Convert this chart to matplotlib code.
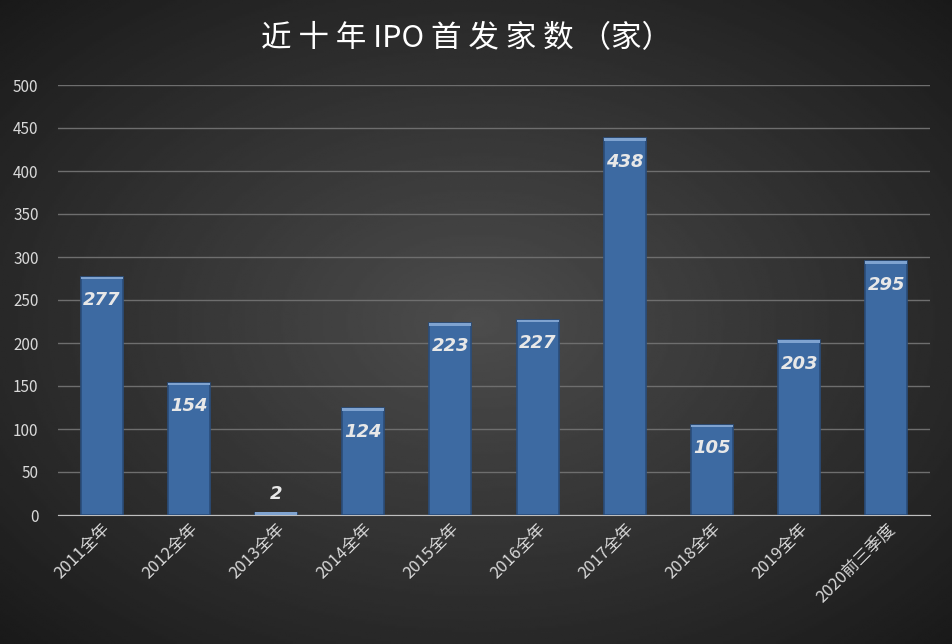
import matplotlib
matplotlib.use("Agg")
import matplotlib.pyplot as plt
import numpy as np

plt.rcParams['font.family'] = ['Noto Sans CJK SC', 'DejaVu Sans']

categories = ["2011全年", "2012全年", "2013全年", "2014全年", "2015全年",
              "2016全年", "2017全年", "2018全年", "2019全年", "2020前三季度"]
counts = [277, 154, 2, 124, 223, 227, 438, 105, 203, 295]

fig = plt.figure(figsize=(9.53, 6.44), dpi=100)

# radial gradient background
bg = fig.add_axes([0, 0, 1, 1], zorder=-10)
yy, xx = np.mgrid[-1:1:300j, -1:1:450j]
r = np.sqrt(xx ** 2 + yy ** 2) / np.sqrt(2)
bg.imshow(0.30 - 0.20 * r, cmap="gray", vmin=0, vmax=1, aspect="auto", extent=[0, 1, 0, 1])
bg.axis("off")

ax = fig.add_axes([58 / 953, 129 / 644, 872 / 953, 430 / 644])
ax.patch.set_alpha(0)
x = np.arange(len(categories))
ax.bar(x, counts, width=0.48, color="#3d6aa2", edgecolor="#2a4d7a", linewidth=1.2, zorder=3)
# light top bevel
ax.bar(x, [3] * len(x), bottom=[max(c - 3, 0) for c in counts], width=0.48,
       color="#7fa3d0", linewidth=0, zorder=4)

for xi, c in zip(x, counts):
    if c < 30:
        ax.text(xi, c + 22, str(c), ha="center", va="center", color="#e8e8e8",
                fontsize=13, fontweight="bold", style="italic", family="DejaVu Sans")
    else:
        ax.text(xi, c - 27, str(c), ha="center", va="center", color="#e8e8e8",
                fontsize=13, fontweight="bold", style="italic", family="DejaVu Sans")

ax.set_xlim(-0.5, len(categories) - 0.5)
ax.set_ylim(0, 500)
ax.set_yticks(range(0, 501, 50))
ax.grid(axis="y", color="#6e6e6e", linewidth=1, zorder=0)
for s in ["top", "right", "left"]:
    ax.spines[s].set_visible(False)
ax.spines["bottom"].set_color("#bfbfbf")
ax.tick_params(axis="y", length=0, colors="#d9d9d9", labelsize=11, pad=14)
ax.tick_params(axis="x", length=0, colors="#d9d9d9", labelsize=12)
ax.set_xticks(x)
ax.set_xticklabels(categories, rotation=45, ha="right", rotation_mode="anchor")

fig.text(0.489, 0.94, "近 十 年 IPO 首 发 家 数 （家）", ha="center", va="center",
         color="white", fontsize=22, fontweight="medium")

fig.savefig("out.png", dpi=100)
